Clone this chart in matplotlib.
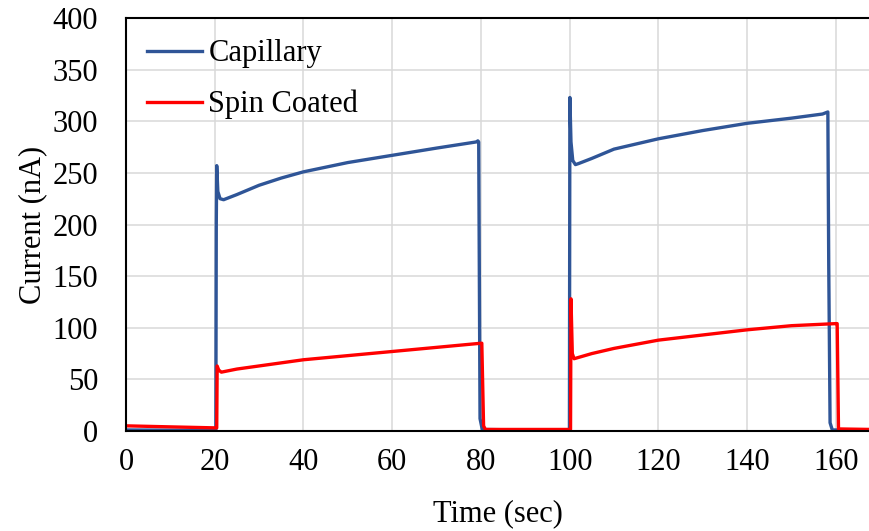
import matplotlib
matplotlib.use("Agg")
import matplotlib.pyplot as plt

# Capillary trace (time in sec, current in nA)
cap_t = [0, 10, 20.25, 20.35, 20.45, 20.7, 21.2, 22, 25, 30, 35, 40, 50, 60,
         70, 79.0, 79.3, 79.5, 79.8, 80.3, 90, 99.95, 100.05, 100.3, 100.7,
         101.3, 102, 105, 110, 120, 130, 140, 150, 157, 158.2, 158.4, 158.7,
         159.2, 168]
cap_v = [1, 0.8, 0.7, 200, 257, 232, 225, 224, 229, 238, 245, 251, 260, 267,
         274, 280, 281, 280, 12, 1.5, 1, 1, 323, 280, 262, 258, 259, 264, 273,
         283, 291, 298, 303, 307, 309, 160, 8, 1, 1]

# Spin coated trace
spin_t = [0, 10, 20.45, 20.55, 20.9, 21.5, 25, 30, 40, 50, 60, 70, 80.0,
          80.2, 80.6, 81, 90, 100.2, 100.3, 100.6, 101, 105, 110, 120, 130,
          140, 150, 160, 160.3, 160.6, 168]
spin_v = [5, 4, 3, 63, 59, 57, 60, 63, 69, 73, 77, 81, 85, 85, 5, 1.5, 1.5,
          1.5, 128, 75, 70, 75, 80, 88, 93, 98, 102, 104, 104, 2, 1.5]

x_ticks = [0, 20, 40, 60, 80, 100, 120, 140, 160]
y_ticks = [0, 50, 100, 150, 200, 250, 300, 350, 400]

plt.rcParams["font.family"] = ["Liberation Serif", "DejaVu Serif"]
plt.rcParams["font.size"] = 22

fig = plt.figure(figsize=(8.7, 5.31), dpi=100)
ax = fig.add_axes([126 / 870, 100 / 531, 1 - 126 / 870, 413 / 531])

ax.plot(cap_t, cap_v, color="#2F5597", linewidth=2.4, label="Capillary")
ax.plot(spin_t, spin_v, color="#FF0000", linewidth=2.4, label="Spin Coated")

ax.set_xlim(0, 167.7)
ax.set_ylim(0, 400)
ax.set_xticks(x_ticks)
ax.set_yticks(y_ticks)
ax.grid(True, color="#D9D9D9", linewidth=1.1)
ax.set_axisbelow(True)
ax.tick_params(length=0)
ax.tick_params(axis="y", pad=20)
ax.tick_params(axis="x", pad=12)

ax.spines["right"].set_visible(False)
for side in ("left", "top", "bottom"):
    ax.spines[side].set_color("black")
    ax.spines[side].set_linewidth(1.5)

ax.set_xlabel("Time (sec)", labelpad=16)
ax.set_ylabel("Current (nA)", labelpad=4)

ax.legend(loc="upper left", bbox_to_anchor=(0.0, 1.0), frameon=False,
          handlelength=1.8, handletextpad=0.2, labelspacing=0.7,
          borderaxespad=0.3, fontsize=22)

fig.savefig("out.png", dpi=100)
plt.close(fig)
